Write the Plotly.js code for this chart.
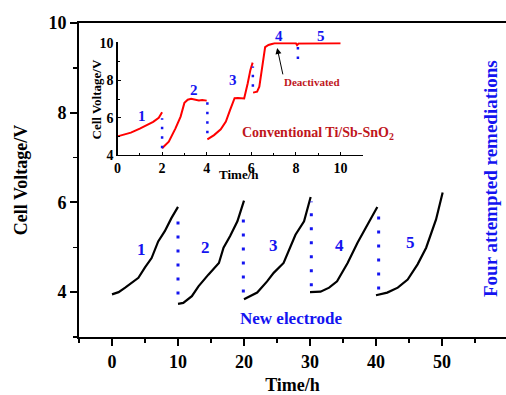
<!DOCTYPE html>
<html>
<head>
<meta charset="utf-8">
<script src="https://cdn.plot.ly/plotly-3.0.1.min.js"></script>
<style>html,body{margin:0;padding:0;background:#fff;overflow:hidden}#chart{width:506px;height:395px}</style>
</head>
<body>
<div id="chart"></div>
<script>
// ---- Main chart: new electrode, 5 runs ----
const run1X = [0, 1, 2, 3, 4, 5, 6, 7, 8, 9, 10];
const run1Y = [3.95, 4.0, 4.1, 4.2, 4.32, 4.55, 4.76, 5.13, 5.36, 5.65, 5.9];
const run2X = [10, 10.8, 12.1, 13.1, 14.6, 16.2, 16.9, 17.9, 19, 20];
const run2Y = [3.74, 3.76, 3.91, 4.13, 4.39, 4.65, 4.99, 5.25, 5.58, 6.04];
const run3X = [20, 21, 22, 23.5, 24.5, 26, 26.8, 27.8, 29.1, 30.1];
const run3Y = [3.84, 3.91, 3.99, 4.24, 4.43, 4.65, 4.95, 5.28, 5.58, 6.12];
const run4X = [30, 31.6, 32.9, 34.1, 35.7, 37.2, 39, 40.2];
const run4Y = [4.0, 4.01, 4.1, 4.24, 4.65, 5.1, 5.58, 5.9];
const run5X = [40, 41.7, 43.3, 44.8, 46.3, 47.6, 49.1, 50.1];
const run5Y = [3.93, 3.99, 4.1, 4.28, 4.62, 4.99, 5.62, 6.22];
const remedX = [10, 19.9, 30.2, 40.4];
const remedYlo = [3.95, 3.99, 4.13, 4.06];
const remedYhi = [5.82, 5.84, 6.02, 5.88];
const runLabels = ['1', '2', '3', '4', '5'];
const runLabelX = [4.5, 14.1, 24.5, 34.4, 45.3];
const runLabelY = [4.95, 4.99, 5.04, 5.04, 5.1];
const mainXTicks = [0, 10, 20, 30, 40, 50];
const mainYTicks = [4, 6, 8, 10];

// ---- Inset: conventional Ti/Sb-SnO2 ----
const conv1X = [0, 0.3, 0.6, 1.0, 1.3, 1.6, 1.85, 2.0];
const conv1Y = [5.0, 5.08, 5.2, 5.42, 5.6, 5.78, 6.0, 6.3];
const conv2X = [2.0, 2.3, 2.6, 2.83, 3.0, 3.15, 3.3, 3.5, 3.65, 3.8, 4.0];
const conv2Y = [4.36, 4.72, 5.43, 6.06, 6.8, 6.97, 7.02, 6.99, 6.93, 6.95, 6.92];
const conv3X = [4.03, 4.33, 4.63, 4.86, 5.05, 5.25, 5.4, 5.68, 5.84, 5.96, 6.06];
const conv3Y = [4.84, 5.07, 5.38, 5.79, 6.42, 7.05, 7.06, 7.04, 7.85, 8.57, 8.96];
const conv4X = [6.08, 6.26, 6.36, 6.51, 6.62, 6.77, 7.04, 8.0, 8.05, 8.12, 10.0];
const conv4Y = [7.35, 7.4, 7.67, 8.75, 9.79, 9.91, 10.0, 10.0, 9.9, 9.99, 10.0];
const convRemedX = [2.0, 4.03, 6.07, 8.09];
const convRemedYlo = [4.36, 5.17, 7.67, 9.15];
const convRemedYhi = [5.97, 6.87, 8.75, 10.2];
const convLabelX = [1.1, 3.43, 5.2, 7.26, 9.14];
const convLabelY = [6.1, 7.5, 8.03, 10.4, 10.4];
const insetXTicks = [0, 2, 4, 6, 8, 10];
const insetYTicks = [4, 6, 8, 10];

const FONT = 'Liberation Serif, Times New Roman, serif';
const TICKFONT = 'Liberation Serif';
const BLUE = '#1414f0';
const DARKRED = '#c0161c';
const W = 506, H = 395, L = 79, R = 0, T = 23, B = 58;
const pw = W - L - R, ph = H - T - B;
const px2x = p => (p - L) / pw;
const py2y = p => (H - B - p) / ph;
// inset geometry (pixels)
const IX0 = 117.5, IXS = 22.3, IY0 = 155, IYS = 18.62;
const insetPx = v => IX0 + IXS * v;
const insetPy = v => IY0 - IYS * (v - 4);
const bold = arr => arr.map(v => '<b>' + v + '</b>');

const traces = [];
[[run1X, run1Y], [run2X, run2Y], [run3X, run3Y], [run4X, run4Y], [run5X, run5Y]].forEach(([x, y]) => {
  traces.push({x, y, type: 'scatter', mode: 'lines', line: {color: '#000', width: 2.2}, xaxis: 'x', yaxis: 'y', hoverinfo: 'skip'});
});
remedX.forEach((xv, i) => {
  traces.push({x: [xv, xv], y: [remedYlo[i], remedYhi[i]], type: 'scatter', mode: 'lines',
    line: {color: BLUE, width: 3, dash: '3px,11px'}, xaxis: 'x', yaxis: 'y', hoverinfo: 'skip'});
});
[[conv1X, conv1Y], [conv2X, conv2Y], [conv3X, conv3Y], [conv4X, conv4Y]].forEach(([x, y]) => {
  traces.push({x, y, type: 'scatter', mode: 'lines', line: {color: '#ff0000', width: 2}, xaxis: 'x2', yaxis: 'y2', hoverinfo: 'skip'});
});
convRemedX.forEach((xv, i) => {
  traces.push({x: [xv, xv], y: [convRemedYlo[i], convRemedYhi[i]], type: 'scatter', mode: 'lines',
    line: {color: BLUE, width: 2.5, dash: '2.5px,7px'}, xaxis: 'x2', yaxis: 'y2', hoverinfo: 'skip'});
});

const annotations = [];
const ann = o => annotations.push(Object.assign({showarrow: false, xanchor: 'center', yanchor: 'middle'}, o));
runLabels.forEach((t, i) => {
  ann({x: runLabelX[i], y: runLabelY[i], xref: 'x', yref: 'y', text: t,
    font: {family: FONT, size: 17, color: BLUE, weight: 'bold'}});
  ann({x: px2x(insetPx(convLabelX[i])), y: py2y(insetPy(convLabelY[i])), xref: 'paper', yref: 'paper', text: t,
    font: {family: FONT, size: 15, color: BLUE, weight: 'bold'}});
});
ann({x: 27.2, y: 3.41, xref: 'x', yref: 'y', text: 'New electrode',
  font: {family: FONT, size: 17, color: BLUE, weight: 'bold'}});
ann({x: px2x(490), y: py2y(179), xref: 'paper', yref: 'paper', text: 'Four attempted remediations',
  textangle: -90, font: {family: FONT, size: 19, color: BLUE, weight: 'bold'}});
ann({x: 9.0, y: 5.13, xref: 'x2', yref: 'y2', text: 'Conventional Ti/Sb-SnO<sub>2</sub>',
  font: {family: FONT, size: 14, color: DARKRED, weight: 'bold'}});
ann({x: 8.72, y: 7.9, xref: 'x2', yref: 'y2', text: 'Deactivated',
  font: {family: FONT, size: 11, color: DARKRED, weight: 'bold'}});
annotations.push({x: 7.16, y: 9.74, xref: 'x2', yref: 'y2', ax: 7.43, ay: 8.25, axref: 'x2', ayref: 'y2',
  text: '', showarrow: true, arrowhead: 2, arrowsize: 1.2, arrowwidth: 1, arrowcolor: '#000'});
ann({x: px2x(96.5), y: py2y(100), xref: 'paper', yref: 'paper', text: 'Cell Voltage/V', textangle: -90,
  font: {family: FONT, size: 13, color: '#000', weight: 'bold'}});
ann({x: px2x(239), y: py2y(174), xref: 'paper', yref: 'paper', text: 'Time/h',
  font: {family: FONT, size: 13, color: '#000', weight: 'bold'}});

const layout = {
  width: W, height: H,
  margin: {l: L, r: R, t: T, b: B, pad: 0},
  paper_bgcolor: '#fff', plot_bgcolor: 'rgba(0,0,0,0)',
  showlegend: false,
  font: {family: FONT, color: '#000'},
  xaxis: {
    range: [-5, -5 + pw / 6.6], tickmode: 'array', tickvals: mainXTicks, ticktext: bold(mainXTicks),
    showgrid: false, zeroline: false,
    showline: true, linecolor: '#000', linewidth: 2, mirror: true,
    ticks: 'outside', ticklen: 7, tickwidth: 2, tickcolor: '#000',
    minor: {tickmode: 'linear', tick0: 0, dtick: 5, ticks: 'outside', ticklen: 4, tickwidth: 1.5, tickcolor: '#000', showgrid: false},
    tickfont: {family: TICKFONT, size: 18, weight: 700, color: '#000'},
    title: {text: '<b>Time/h</b>', font: {family: FONT, size: 18, weight: 'bold'}, standoff: 21},
    fixedrange: true
  },
  yaxis: {
    range: [3, 10], tickmode: 'array', tickvals: mainYTicks, ticktext: bold(mainYTicks),
    showgrid: false, zeroline: false,
    showline: true, linecolor: '#000', linewidth: 2,
    ticks: 'outside', ticklen: 7, tickwidth: 2, tickcolor: '#000',
    minor: {tickmode: 'linear', tick0: 0, dtick: 1, ticks: 'outside', ticklen: 4, tickwidth: 1.5, tickcolor: '#000', showgrid: false},
    tickfont: {family: TICKFONT, size: 18, weight: 700, color: '#000'},
    title: {text: '<b>Cell Voltage/V</b>', font: {family: FONT, size: 18, weight: 'bold'}, standoff: 16},
    fixedrange: true
  },
  xaxis2: {
    domain: [px2x(IX0), px2x(insetPx(11))], anchor: 'y2',
    range: [0, 11], tickmode: 'array', tickvals: insetXTicks, ticktext: bold(insetXTicks),
    showgrid: false, zeroline: false,
    showline: true, linecolor: '#000', linewidth: 1.3,
    ticks: 'inside', ticklen: 3, tickwidth: 1, tickcolor: '#000',
    minor: {tickmode: 'linear', tick0: 0, dtick: 1, ticks: 'inside', ticklen: 2, tickwidth: 1, tickcolor: '#000', showgrid: false},
    tickfont: {family: TICKFONT, size: 14, weight: 700, color: '#000'},
    fixedrange: true
  },
  yaxis2: {
    domain: [py2y(insetPy(4)), py2y(insetPy(10.05))], anchor: 'x2',
    range: [4, 10.05], tickmode: 'array', tickvals: insetYTicks, ticktext: bold(insetYTicks),
    showgrid: false, zeroline: false,
    showline: true, linecolor: '#000', linewidth: 1.3,
    ticks: 'inside', ticklen: 3, tickwidth: 1, tickcolor: '#000',
    minor: {tickmode: 'linear', tick0: 0, dtick: 1, ticks: 'inside', ticklen: 2, tickwidth: 1, tickcolor: '#000', showgrid: false},
    tickfont: {family: TICKFONT, size: 14, weight: 700, color: '#000'},
    fixedrange: true
  },
  annotations
};

Plotly.newPlot('chart', traces, layout, {displayModeBar: false, staticPlot: true});
</script>
</body>
</html>
